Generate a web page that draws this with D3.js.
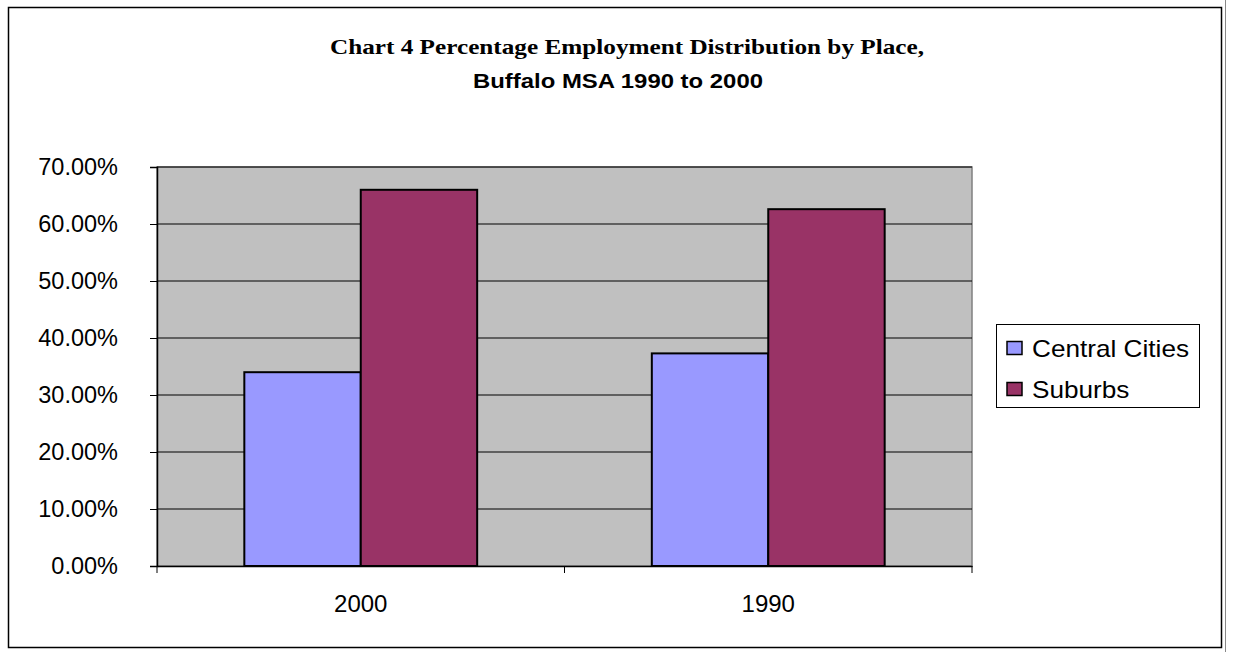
<!DOCTYPE html>
<html><head><meta charset="utf-8">
<script src="https://cdn.jsdelivr.net/npm/d3@7"></script>
<style>body{margin:0;background:#fff}svg{display:block}</style>
</head><body>
<svg id="chart" width="1235" height="652"></svg>
<script>
const categories = ["2000", "1990"];
const seriesNames = ["Central Cities", "Suburbs"];
const centralCities = [0.340, 0.373];
const suburbs = [0.660, 0.626];
const yTicks = [0, 0.1, 0.2, 0.3, 0.4, 0.5, 0.6, 0.7];
const colors = ["#9999FF", "#993366"];
const titleLine1 = "Chart 4 Percentage Employment Distribution by Place,";
const titleLine2 = "Buffalo MSA 1990 to 2000";

const ARIAL = "Arial, 'Liberation Sans', sans-serif";
const TIMES = "'Times New Roman', 'Liberation Serif', serif";
const svg = d3.select("#chart");
// outer frame
svg.append("rect").attr("x", 8.5).attr("y", 7.5).attr("width", 1213).attr("height", 640)
  .attr("fill", "#fff").attr("stroke", "#000").attr("stroke-width", 1.5);
svg.append("line").attr("x1", 1225.5).attr("x2", 1225.5).attr("y1", 0).attr("y2", 652)
  .attr("stroke", "#888").attr("stroke-width", 1);

const plot = {left: 157, right: 972, top: 167, bottom: 566};
const x0 = d3.scaleBand().domain(categories).range([plot.left, plot.right]);
const y = d3.scaleLinear().domain([0, 0.7]).range([plot.bottom, plot.top]);

// plot background
svg.append("rect").attr("x", plot.left).attr("y", plot.top)
  .attr("width", plot.right - plot.left).attr("height", plot.bottom - plot.top)
  .attr("fill", "#C0C0C0").attr("stroke", "#808080").attr("stroke-width", 1.5);

// gridlines
svg.append("g").selectAll("line").data(yTicks.filter(d => d > 0)).join("line")
  .attr("x1", plot.left).attr("x2", plot.right)
  .attr("y1", d => y(d)).attr("y2", d => y(d))
  .attr("stroke", "#000").attr("stroke-width", 1);

// bars (gap width 150%)
const seriesData = [centralCities, suburbs];
const groupW = x0.bandwidth();
const bx = d3.scaleBand().domain(seriesNames).range([groupW * 0.75 / 3.5, groupW - groupW * 0.75 / 3.5]);
const g = svg.append("g");
categories.forEach((c, ci) => {
  seriesNames.forEach((s, si) => {
    const v = seriesData[si][ci];
    g.append("rect")
      .attr("x", x0(c) + bx(s))
      .attr("y", y(v))
      .attr("width", bx.bandwidth())
      .attr("height", y(0) - y(v))
      .attr("fill", colors[si]).attr("stroke", "#000").attr("stroke-width", 2);
  });
});

// y axis
const yAxis = d3.axisLeft(y).tickValues(yTicks).tickSize(7).tickPadding(32)
  .tickFormat(d => (d * 100).toFixed(2) + "%");
const ya = svg.append("g").attr("transform", `translate(${plot.left},0)`).call(yAxis);
ya.select(".domain").attr("stroke", "#000").attr("stroke-width", 1.5);
ya.selectAll(".tick line").attr("stroke", "#000");
ya.selectAll("text").attr("font-family", ARIAL).attr("font-size", 23.5).attr("fill", "#000");

// x axis
const xa = svg.append("g").attr("transform", `translate(0,${plot.bottom})`)
  .call(d3.axisBottom(x0).tickSize(0).tickPadding(29));
xa.select(".domain").attr("stroke", "#000").attr("stroke-width", 1.5);
xa.selectAll("text").attr("font-family", ARIAL).attr("font-size", 24).attr("fill", "#000");
const sepTicks = [plot.left, x0(categories[1]), plot.right];
svg.append("g").selectAll("line").data(sepTicks).join("line")
  .attr("x1", d => d).attr("x2", d => d).attr("y1", plot.bottom).attr("y2", plot.bottom + 7)
  .attr("stroke", "#000").attr("stroke-width", 1);

// title
svg.append("text").attr("x", 330).attr("y", 54)
  .attr("font-family", TIMES).attr("font-weight", "bold")
  .attr("font-size", 21).attr("textLength", 594).attr("lengthAdjust", "spacingAndGlyphs").text(titleLine1);
svg.append("text").attr("x", 473).attr("y", 88)
  .attr("font-family", ARIAL).attr("font-weight", "bold")
  .attr("font-size", 21).attr("textLength", 290).attr("lengthAdjust", "spacingAndGlyphs").text(titleLine2);

// legend
const lg = svg.append("g");
lg.append("rect").attr("x", 996.5).attr("y", 324.5).attr("width", 203).attr("height", 83)
  .attr("fill", "#fff").attr("stroke", "#000").attr("stroke-width", 1);
seriesNames.forEach((s, i) => {
  const cy = 348 + i * 41;
  lg.append("rect").attr("x", 1007).attr("y", cy - 6.5).attr("width", 15).attr("height", 13)
    .attr("fill", colors[i]).attr("stroke", "#000").attr("stroke-width", 1.5);
  const t = lg.append("text").attr("x", 1032).attr("y", cy + 8.5)
    .attr("font-family", ARIAL).attr("font-size", 24).text(s);
  const w = t.node().getComputedTextLength();
  t.attr("textLength", w * 1.09).attr("lengthAdjust", "spacingAndGlyphs");
});
</script>
</body></html>
